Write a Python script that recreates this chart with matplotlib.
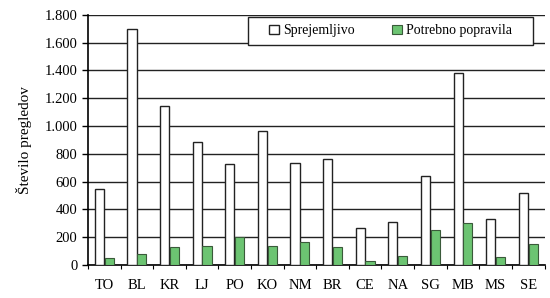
import matplotlib
matplotlib.use("Agg")
import matplotlib.pyplot as plt
import numpy as np
from matplotlib.ticker import FuncFormatter, FixedLocator
from matplotlib.patches import Rectangle

categories = ["TO", "BL", "KR", "LJ", "PO", "KO", "NM", "BR", "CE", "NA", "SG", "MB", "MS", "SE"]
sprejemljivo = [545, 1700, 1142, 884, 727, 963, 737, 761, 264, 310, 641, 1382, 333, 516]
popravila = [48, 77, 132, 139, 199, 139, 168, 127, 25, 67, 252, 300, 55, 151]
series_names = ["Sprejemljivo", "Potrebno popravila"]
y_ticks = [0, 200, 400, 600, 800, 1000, 1200, 1400, 1600, 1800]

plt.rcParams['font.family'] = ['Liberation Serif', 'DejaVu Serif']

fig = plt.figure(figsize=(5.5, 2.98), dpi=100)
ax = fig.add_axes([0.16, 0.111, 0.83, 0.839])

x = np.arange(len(categories))
w = 0.28
ax.bar(x - 0.15, sprejemljivo, width=w, color="white", edgecolor="#222222", linewidth=1.0,
       label=series_names[0], zorder=3)
ax.bar(x + 0.15, popravila, width=w, color="#6cc472", edgecolor="#3a5a3a", linewidth=0.8,
       label=series_names[1], zorder=3)

ax.set_xlim(-0.5, len(categories) - 0.5)
ax.set_ylim(0, 1800)
ax.yaxis.set_major_locator(FixedLocator(y_ticks))
ax.yaxis.set_major_formatter(FuncFormatter(lambda v, p: f"{int(v):,}".replace(",", ".")))
ax.grid(axis="y", color="#222222", linewidth=1.0, zorder=0)
ax.set_axisbelow(True)

ax.set_xticks(x)
ax.set_xticklabels(categories)
ax.xaxis.set_minor_locator(FixedLocator(np.arange(-0.5, len(categories), 1.0)))
ax.tick_params(axis="x", which="major", length=0, pad=10, labelsize=10.5)
ax.tick_params(axis="x", which="minor", length=3, direction="out", width=0.8)
ax.tick_params(axis="y", length=4, direction="out", width=1.0, labelsize=10.5)

for s in ["top", "right"]:
    ax.spines[s].set_visible(False)
ax.spines["left"].set_linewidth(1.2)
ax.spines["bottom"].set_linewidth(1.2)

ax.set_ylabel("Število pregledov", fontsize=11, labelpad=9)

# legend frame box
bx0, bx1, by0, by1 = 0.350, 0.975, 0.880, 0.992
ax.add_patch(Rectangle((bx0, by0), bx1 - bx0, by1 - by0, transform=ax.transAxes,
                       facecolor="white", edgecolor="#222222", linewidth=1.0, zorder=5))
leg = ax.legend(loc="center", bbox_to_anchor=((bx0 + bx1) / 2, (by0 + by1) / 2), ncol=2,
                fontsize=10, frameon=False,
                handlelength=0.7, handleheight=0.7, handletextpad=0.3, columnspacing=2.7,
                borderpad=0.0)
leg.set_zorder(6)

fig.savefig("out.png", dpi=100)
